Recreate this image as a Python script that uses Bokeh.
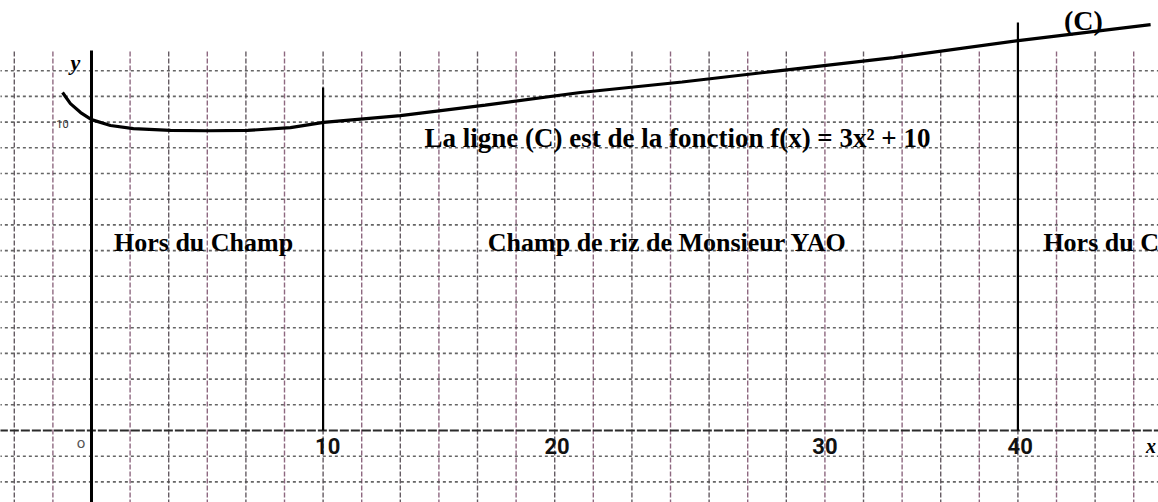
import numpy as np
from bokeh.plotting import figure
from bokeh.models import Range1d, ColumnDataSource
from bokeh.core.properties import value
from bokeh.embed import file_html
from bokeh.resources import INLINE

# ---- data ----
curve_x = [-1.25, -0.91, -0.47, 0.0, 0.82, 1.81, 3.41, 5.0, 6.74, 8.59, 10.02,
           13.34, 17.0, 21.11, 25.5, 29.75, 34.63, 40.11, 45.73]
curve_y = [10.96, 10.60, 10.31, 10.08, 9.89, 9.79, 9.73, 9.72, 9.73, 9.82, 9.99,
           10.21, 10.55, 10.96, 11.30, 11.67, 12.09, 12.65, 13.16]

# x tick labels (the "30" label is drawn one grid cell to the right in the source)
x_tick_pos = [10.2, 20.1, 31.67, 40.1]
x_tick_labels = ["10", "20", "30", "40"]
y_tick_pos = [9.95]
y_tick_labels = ["10"]

field_bounds = [10, 40]          # black vertical lines of the field
# the right-hand label is cut by the edge of the page in the source: "Hors du C"
region_labels = ["Hors du Champ", "Champ de riz de Monsieur YAO", "Hors du C"]
region_x = [4.84, 24.87, 41.1]
region_align = ["center", "center", "left"]

title_text = "La ligne (C) est de la fonction f(x) = 3x² + 10"

# ---- figure ----
p = figure(width=1158, height=502, output_backend="svg", toolbar_location=None,
           x_range=Range1d(-3.929, 46.07), y_range=Range1d(-2.335, 13.943),
           min_border=0, outline_line_color=None, background_fill_color="white",
           border_fill_color="white")
p.axis.visible = False
p.grid.visible = False

cell_x = 10 / 6
cell_y = 10 / 12
y_top_grid = 12.32

# vertical grid (dashed)
gx = np.arange(-2, 28) * cell_x
cols = ["#7a4e6a" if i % 2 else "#4a4048" for i in range(len(gx))]
p.segment(x0=gx, y0=[-2.4] * len(gx), x1=gx, y1=[y_top_grid] * len(gx),
          line_color=cols, line_width=1.4, line_dash="5 2", line_alpha=0.85)

# horizontal grid (dotted)
gy = np.arange(-3, 15) * cell_y
gy = gy[gy != 0]
p.segment(x0=[-4] * len(gy), y0=gy, x1=[47] * len(gy), y1=gy,
          line_color="#4a4a4a", line_width=1.6, line_dash="3 3", line_alpha=0.85)

# x axis
p.segment(x0=[-4], y0=[0], x1=[47], y1=[0], line_color="#2a2a2a", line_width=2.2,
          line_dash="9 2")
# y axis
p.segment(x0=[0], y0=[-2.4], x1=[0], y1=[y_top_grid], line_color="black", line_width=3)

# field boundaries
p.segment(x0=field_bounds, y0=[0, 0], x1=field_bounds, y1=[11.12, 13.23],
          line_color="black", line_width=2.2)

# curve
p.line(curve_x, curve_y, line_color="black", line_width=3.2)

serif = value("Liberation Serif")
sans = value("Roboto")

# tick labels
p.text(x=x_tick_pos, y=[-0.5] * len(x_tick_pos), text=x_tick_labels,
       text_font=sans, text_font_size="22px", text_font_style="bold",
       text_align="center", text_baseline="middle", text_color="#111")
p.text(x=[-0.45], y=[-0.42], text=["o"], text_font=sans, text_font_size="15px",
       text_align="center", text_baseline="middle", text_color="#555")
p.text(x=[-1.25], y=y_tick_pos, text=y_tick_labels, text_font=sans,
       text_font_size="11px", text_align="center", text_baseline="middle",
       text_color="#333")

# axis names
p.text(x=[-0.7], y=[11.93], text=["y"], text_font=serif, text_font_size="22px",
       text_font_style="bold italic", text_align="center", text_baseline="middle")
p.text(x=[45.75], y=[-0.5], text=["x"], text_font=serif, text_font_size="20px",
       text_font_style="bold italic", text_align="center", text_baseline="middle")

# annotations
p.text(x=[25.3], y=[9.5], text=[title_text], text_font=serif, text_font_size="27px",
       text_font_style="bold", text_align="center", text_baseline="middle",
       text_color="black")
src = ColumnDataSource(dict(x=region_x, y=[6.1] * 3, t=region_labels, a=region_align))
p.text(x="x", y="y", text="t", text_align="a", source=src, text_font=serif,
       text_font_size="26px", text_font_style="bold", text_baseline="middle",
       text_color="black")
p.text(x=[42.83], y=[13.3], text=["(C)"], text_font=serif, text_font_size="28px",
       text_font_style="bold", text_align="center", text_baseline="middle")

open("out.html", "w").write(file_html(p, INLINE))
